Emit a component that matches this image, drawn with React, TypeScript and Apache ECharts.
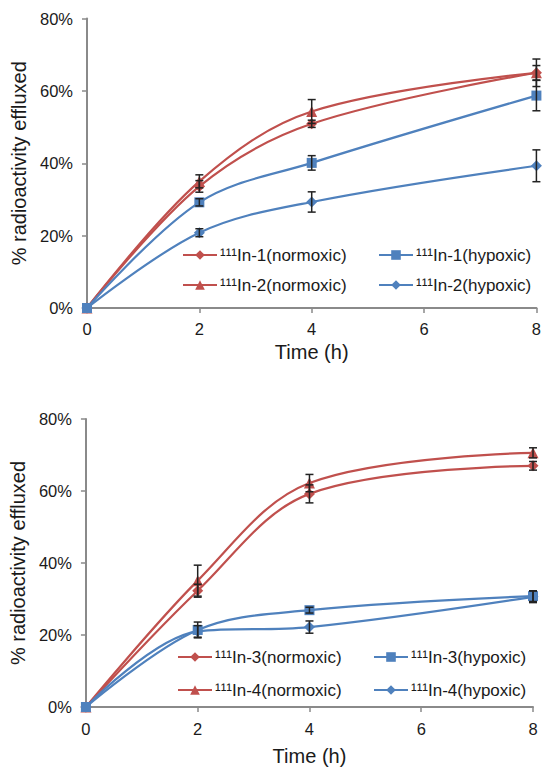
import React, { useEffect, useRef } from "react";
import * as echarts from "echarts";

const time = [0, 2, 4, 8];
const xTicks = [0, 2, 4, 6, 8];

// Top panel
const in1Norm = [0, 33.6, 50.9, 65.0];
const in1NormErr = [0, 1.6, 1.0, 2.0];
const in2Norm = [0, 35.0, 54.3, 65.0];
const in2NormErr = [0, 1.8, 3.3, 3.8];
const in1Hyp = [0, 29.2, 40.1, 58.7];
const in1HypErr = [0, 1.0, 2.0, 4.2];
const in2Hyp = [0, 20.8, 29.3, 39.3];
const in2HypErr = [0, 1.1, 2.8, 4.4];

// Bottom panel
const in3Norm = [0, 32.3, 59.2, 67.0];
const in3NormErr = [0, 1.8, 2.5, 1.2];
const in4Norm = [0, 35.1, 62.2, 70.6];
const in4NormErr = [0, 4.3, 2.4, 1.4];
const in3Hyp = [0, 21.4, 26.9, 30.8];
const in3HypErr = [0, 2.2, 0.8, 1.5];
const in4Hyp = [0, 21.0, 22.2, 30.6];
const in4HypErr = [0, 1.6, 1.7, 1.6];

const RED = "#C0504D";
const BLUE = "#4F81BD";
const AXIS = "#8a8a8a";
const TEXT = "#1a1a1a";
const FONT = "Liberation Sans, Arial, sans-serif";

const pairs = (ys: number[]) => time.map((t, i) => [t, ys[i]]);
const errData = (ys: number[], es: number[]) =>
  time.map((t, i) => [t, ys[i] - es[i], ys[i] + es[i]]).filter((_, i) => es[i] > 0);

function lineSeries(name: string, ys: number[], color: string, symbol: string, size: number, idx: number) {
  return {
    type: "line",
    name,
    data: pairs(ys),
    xAxisIndex: idx,
    yAxisIndex: idx,
    smooth: 0.35,
    symbol,
    symbolSize: size,
    showSymbol: true,
    lineStyle: { color, width: 2.2 },
    itemStyle: { color },
    z: 3,
  };
}

function errSeries(ys: number[], es: number[], idx: number) {
  return {
    type: "custom",
    xAxisIndex: idx,
    yAxisIndex: idx,
    data: errData(ys, es),
    encode: { x: 0, y: [1, 2] },
    z: 4,
    silent: true,
    renderItem: (params: any, api: any) => {
      const x = api.value(0);
      const lo = api.coord([x, api.value(1)]);
      const hi = api.coord([x, api.value(2)]);
      const w = 4;
      const style = { stroke: "#222", lineWidth: 1.5 };
      return {
        type: "group",
        children: [
          { type: "line", shape: { x1: lo[0], y1: lo[1], x2: hi[0], y2: hi[1] }, style },
          { type: "line", shape: { x1: hi[0] - w, y1: hi[1], x2: hi[0] + w, y2: hi[1] }, style },
          { type: "line", shape: { x1: lo[0] - w, y1: lo[1], x2: lo[0] + w, y2: lo[1] }, style },
        ],
      };
    },
  };
}

function xAxis(idx: number, nameGap: number, margin: number) {
  return {
    type: "value",
    gridIndex: idx,
    min: 0,
    max: 8,
    interval: 2,
    name: "Time (h)",
    nameLocation: "middle",
    nameGap,
    nameTextStyle: { fontSize: 20, color: TEXT, fontFamily: FONT },
    axisLine: { show: true, lineStyle: { color: AXIS, width: 2 } },
    axisTick: { show: true, length: 5, lineStyle: { color: AXIS, width: 1.5 } },
    axisLabel: { fontSize: 16.5, color: TEXT, fontFamily: FONT, margin },
    splitLine: { show: false },
  };
}

function yAxis(idx: number, nameGap: number) {
  return {
    type: "value",
    gridIndex: idx,
    min: 0,
    max: 80,
    interval: 20,
    name: "% radioactivity effluxed",
    nameLocation: "middle",
    nameGap,
    nameTextStyle: { fontSize: 20, color: TEXT, fontFamily: FONT },
    axisLine: { show: true, lineStyle: { color: AXIS, width: 2 } },
    axisTick: { show: true, length: 5, lineStyle: { color: AXIS, width: 1.5 } },
    axisLabel: { fontSize: 16.5, color: TEXT, fontFamily: FONT, margin: 14, formatter: "{value}%" },
    splitLine: { show: false },
  };
}

function legend(names: string[], left: number, top: number, gap: number) {
  return {
    orient: "vertical",
    left,
    top,
    padding: 0,
    itemGap: gap,
    itemWidth: 34,
    itemHeight: 12,
    data: names,
    selectedMode: false,
    textStyle: { fontSize: 17, color: TEXT, fontFamily: FONT, lineHeight: 20, padding: [0, 0, 0, -2] },
  };
}

export default function App() {
  const ref = useRef<HTMLDivElement>(null);
  useEffect(() => {
    if (!ref.current) return;
    const chart = echarts.init(ref.current, undefined, { renderer: "svg" });
    const n1 = "¹¹¹In-1(normoxic)";
    const n2 = "¹¹¹In-2(normoxic)";
    const h1 = "¹¹¹In-1(hypoxic)";
    const h2 = "¹¹¹In-2(hypoxic)";
    const n3 = "¹¹¹In-3(normoxic)";
    const n4 = "¹¹¹In-4(normoxic)";
    const h3 = "¹¹¹In-3(hypoxic)";
    const h4 = "¹¹¹In-4(hypoxic)";
    chart.setOption({
      animation: false,
      backgroundColor: "#ffffff",
      grid: [
        { left: 87, right: 6, top: 18.5, height: 289.5 },
        { left: 83, right: 11, top: 419, height: 288 },
      ],
      xAxis: [xAxis(0, 34, 12), xAxis(1, 39, 13)],
      yAxis: [yAxis(0, 56), yAxis(1, 55)],
      legend: [
        legend([n1, n2], 182, 245, 10),
        legend([h1, h2], 378, 245, 10),
        legend([n3, n4], 177, 647, 13),
        legend([h3, h4], 373, 647, 13),
      ],
      series: [
        lineSeries(n1, in1Norm, RED, "diamond", 11, 0),
        lineSeries(n2, in2Norm, RED, "triangle", 11, 0),
        lineSeries(h2, in2Hyp, BLUE, "diamond", 11, 0),
        lineSeries(h1, in1Hyp, BLUE, "rect", 10, 0),
        errSeries(in1Norm, in1NormErr, 0),
        errSeries(in2Norm, in2NormErr, 0),
        errSeries(in2Hyp, in2HypErr, 0),
        errSeries(in1Hyp, in1HypErr, 0),
        lineSeries(n3, in3Norm, RED, "diamond", 11, 1),
        lineSeries(n4, in4Norm, RED, "triangle", 11, 1),
        lineSeries(h4, in4Hyp, BLUE, "diamond", 11, 1),
        lineSeries(h3, in3Hyp, BLUE, "rect", 10, 1),
        errSeries(in3Norm, in3NormErr, 1),
        errSeries(in4Norm, in4NormErr, 1),
        errSeries(in4Hyp, in4HypErr, 1),
        errSeries(in3Hyp, in3HypErr, 1),
      ],
    });
    return () => chart.dispose();
  }, []);
  return (
    <div
      ref={ref}
      style={{ position: "absolute", left: 0, top: 0, width: 544, height: 771, background: "#fff" }}
    />
  );
}
